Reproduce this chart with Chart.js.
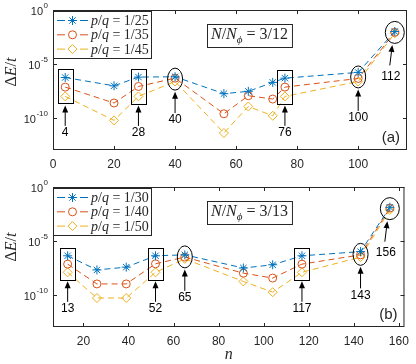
<!DOCTYPE html>
<html>
<head>
<meta charset="utf-8">
<script src="https://cdn.jsdelivr.net/npm/chart.js@4/dist/chart.umd.min.js"></script>
<style>
  body { margin: 0; background: #fff; }
  canvas { position: absolute; left: 0; }
</style>
</head>
<body>
<canvas id="ca" width="416" height="180" style="top:0"></canvas>
<canvas id="cb" width="416" height="184" style="top:180px"></canvas>
<script>
// panel (a): N/Nphi = 3/12
const nA = [4, 20, 28, 40, 56, 64, 72, 76, 100, 112];
const q25 = [5.4e-7, 9.1e-8, 5.9e-7, 6.3e-7, 1.7e-8, 2.8e-8, 1.9e-7, 4.7e-7, 1.6e-6, 1.0e-2];
const q35 = [6.9e-8, 2.3e-9, 7.9e-8, 4.7e-7, 2.3e-10, 1.1e-8, 5.4e-9, 6.9e-8, 4.4e-7, 8.5e-3];
const q45 = [9.5e-9, 5.6e-11, 9.5e-9, 2.3e-7, 3.8e-12, 1.1e-9, 1.5e-10, 9.5e-9, 2.3e-7, 6.9e-3];
const boxedA = [4, 28, 76];
const circledA = [40, 100, 112];
const xTicksA = [0, 20, 40, 60, 80, 100];

// panel (b): N/Nphi = 3/13
const nB = [13, 26, 39, 52, 65, 91, 104, 117, 143, 156];
const q30 = [4.1e-7, 2.0e-8, 3.6e-8, 4.1e-7, 5.0e-7, 3.0e-8, 6.0e-8, 4.1e-7, 1.0e-6, 1.3e-2];
const q40 = [6.9e-8, 1.0e-9, 1.0e-9, 7.4e-8, 3.1e-7, 1.0e-8, 3.5e-9, 6.9e-8, 5.0e-7, 1.1e-2];
const q50 = [1.2e-8, 4.9e-11, 4.9e-11, 1.2e-8, 2.1e-7, 1.7e-9, 1.7e-10, 1.2e-8, 3.1e-7, 7.4e-3];
const boxedB = [13, 52, 117];
const circledB = [65, 143, 156];
const xTicksB = [20, 40, 60, 80, 100, 120, 140, 160];

const yTicks = [1e0, 1e-5, 1e-10];
const yTickExp = ['0', '-5', '-10'];

const blue = '#0072BD', orange = '#D95319', yellow = '#EDB120';
const axisCol = '#262626';
const sans = '"Liberation Sans", Arial, sans-serif';
const serif = '"Liberation Serif", "DejaVu Serif", serif';

function rich(ctx, parts, x, y, size, align) {
  const fontFor = k => (k === 'r' ? '' : 'italic ') + (k === 'sub' ? Math.round(size * 0.7) : size) + 'px ' + serif;
  let w = 0;
  parts.forEach(p => { ctx.font = fontFor(p[1]); w += ctx.measureText(p[0]).width; });
  let cx = align === 'center' ? x - w / 2 : x;
  ctx.textAlign = 'left';
  ctx.textBaseline = 'alphabetic';
  parts.forEach(p => {
    ctx.font = fontFor(p[1]);
    ctx.fillText(p[0], cx, p[1] === 'sub' ? y + size * 0.28 : y);
    cx += ctx.measureText(p[0]).width;
  });
  return w;
}

function arrow(ctx, x0, y0, x1, y1) {
  // tip at (x0, y0), tail at (x1, y1)
  const ang = Math.atan2(y0 - y1, x0 - x1);
  ctx.beginPath();
  ctx.moveTo(x1, y1);
  ctx.lineTo(x0 - 6 * Math.cos(ang), y0 - 6 * Math.sin(ang));
  ctx.stroke();
  ctx.beginPath();
  ctx.moveTo(x0, y0);
  ctx.lineTo(x0 - 7 * Math.cos(ang) + 3 * Math.sin(ang), y0 - 7 * Math.sin(ang) - 3 * Math.cos(ang));
  ctx.lineTo(x0 - 7 * Math.cos(ang) - 3 * Math.sin(ang), y0 - 7 * Math.sin(ang) + 3 * Math.cos(ang));
  ctx.closePath();
  ctx.fill();
}

const deco = {
  id: 'deco',
  afterDatasetsDraw(chart, args, o) {
    const { ctx, chartArea: a, scales: { x, y } } = chart;
    const sets = chart.data.datasets;
    ctx.save();

    // box
    ctx.strokeStyle = axisCol;
    ctx.lineWidth = 1;
    ctx.strokeRect(a.left + 0.5, a.top + 0.5, a.right - a.left - 1, a.bottom - a.top - 1);

    // inward ticks on all sides
    ctx.beginPath();
    o.xTicks.forEach(v => {
      const px = Math.round(x.getPixelForValue(v)) + 0.5;
      ctx.moveTo(px, a.bottom); ctx.lineTo(px, a.bottom - 4);
      ctx.moveTo(px, a.top); ctx.lineTo(px, a.top + 4);
    });
    yTicks.forEach(v => {
      const py = Math.round(y.getPixelForValue(v)) + 0.5;
      ctx.moveTo(a.left, py); ctx.lineTo(a.left + 4, py);
      ctx.moveTo(a.right, py); ctx.lineTo(a.right - 4, py);
    });
    ctx.stroke();

    // y tick labels 10^k
    ctx.fillStyle = axisCol;
    yTicks.forEach((v, i) => {
      const py = y.getPixelForValue(v);
      ctx.font = '8px ' + sans;
      ctx.textAlign = 'right';
      ctx.textBaseline = 'middle';
      const sw = ctx.measureText(yTickExp[i]).width;
      ctx.fillText(yTickExp[i], a.left - 5, py - 4);
      ctx.font = '11px ' + sans;
      ctx.fillText('10', a.left - 5 - sw - 0.5, py + 2);
    });

    // y axis title
    ctx.save();
    ctx.translate(15.5, a.top + o.ylabY);
    ctx.rotate(-Math.PI / 2);
    rich(ctx, [['\u0394', 'r'], ['E', 'i'], ['/', 'r'], ['t', 'i']], 0, 0, 16, 'center');
    ctx.restore();

    // legend
    const lx = a.left, ly = a.top + 1, lw = 99, lh = 48;
    ctx.fillStyle = '#fff';
    ctx.fillRect(lx, ly, lw, lh);
    ctx.strokeStyle = axisCol;
    ctx.strokeRect(lx + 0.5, ly + 0.5, lw - 1, lh - 1);
    sets.forEach((d, i) => {
      const ry = ly + 9.5 + i * 14.3;
      ctx.strokeStyle = d.borderColor;
      ctx.lineWidth = 1;
      ctx.beginPath();
      ctx.moveTo(lx + 4, ry); ctx.lineTo(lx + 12, ry);
      ctx.moveTo(lx + 27, ry); ctx.lineTo(lx + 35, ry);
      ctx.stroke();
      ctx.fillStyle = 'rgba(0,0,0,0)';
      Chart.helpers.drawPoint(ctx, { pointStyle: d.pointStyle, radius: d.pointRadius, borderWidth: 1, rotation: 0 }, lx + 19.5, ry);
      ctx.fillStyle = axisCol;
      rich(ctx, [['p', 'i'], ['/', 'r'], ['q', 'i'], [' = ' + d.label, 'r']], lx + 38, ry + 4.5, 14, 'left');
    });

    // N/Nphi box
    const tparts = [['N', 'i'], ['/', 'r'], ['N', 'i'], ['\u03d5', 'sub'], [' = ' + o.ratio, 'r']];
    ctx.fillStyle = axisCol;
    const tw = rich(ctx, tparts, a.left + 158, a.top + 29, 16, 'left');
    ctx.strokeStyle = axisCol;
    ctx.strokeRect(a.left + 154.5, a.top + 14.5, tw + 8, 23);

    // panel tag
    ctx.font = '15px ' + sans;
    ctx.textAlign = 'right';
    ctx.textBaseline = 'middle';
    ctx.fillText(o.tag, a.right - 7, a.bottom - 12);

    // marked points
    const pixAt = n => sets.map(d => y.getPixelForValue(d.data.find(p => p.x === n).y));
    ctx.lineWidth = 1;
    ctx.strokeStyle = '#000';
    ctx.fillStyle = '#000';
    ctx.font = '12px ' + sans;
    ctx.textAlign = 'center';
    ctx.textBaseline = 'middle';
    o.boxed.forEach(n => {
      const px = x.getPixelForValue(n), ys = pixAt(n);
      const t = Math.min(...ys) - 8, b = Math.max(...ys) + 7.5;
      ctx.strokeRect(Math.round(px - 7.5) + 0.5, Math.round(t) + 0.5, 15, Math.round(b - t));
      arrow(ctx, px, b + 1.5, px, b + 22);
      ctx.fillText(String(n), px, b + 29);
    });
    o.circled.forEach((n, i) => {
      const px = x.getPixelForValue(n), ys = pixAt(n);
      const cy = (Math.min(...ys) + Math.max(...ys)) / 2;
      const last = i === o.circled.length - 1;
      const rx = last ? 9.5 : 7.5, ry = 11;
      ctx.beginPath();
      ctx.ellipse(px, cy, rx, ry, 0, 0, Math.PI * 2);
      ctx.stroke();
      if (last) {
        arrow(ctx, px - 2.5, cy + ry + 1.5, px - 5, cy + ry + 22);
        ctx.fillText(String(n), px - 4, cy + ry + 33);
      } else {
        arrow(ctx, px, cy + ry + 1.5, px, cy + ry + 23);
        ctx.fillText(String(n), px, cy + ry + 30);
      }
    });

    // x axis title
    if (o.xlabel) {
      ctx.fillStyle = axisCol;
      rich(ctx, [['n', 'i']], (a.left + a.right) / 2, chart.height - 5, 16, 'center');
    }
    ctx.restore();
  }
};

function series(label, xs, ys, color, style, r) {
  return {
    label: label,
    data: xs.map((n, i) => ({ x: n, y: ys[i] })),
    borderColor: color,
    backgroundColor: 'rgba(0,0,0,0)',
    borderWidth: 1,
    borderDash: [6, 4],
    pointStyle: style,
    pointRadius: r,
    pointBorderColor: color,
    pointBackgroundColor: 'rgba(0,0,0,0)',
    pointBorderWidth: 1,
    tension: 0
  };
}

function panel(id, datasets, xmin, xmax, xTicks, top, xh, deco_opts) {
  return new Chart(document.getElementById(id), {
    type: 'line',
    data: { datasets: datasets },
    options: {
      responsive: false,
      animation: false,
      devicePixelRatio: 1,
      layout: { padding: { left: 0, top: top, right: 9, bottom: 0 } },
      plugins: { legend: { display: false }, tooltip: { enabled: false }, deco: deco_opts },
      scales: {
        x: {
          type: 'linear', min: xmin, max: xmax,
          grid: { display: false, drawTicks: false },
          border: { display: false },
          ticks: { color: axisCol, font: { size: 12, family: sans }, padding: 7 },
          afterBuildTicks: s => { s.ticks = xTicks.map(v => ({ value: v })); },
          afterFit: s => { s.height = xh; }
        },
        y: {
          type: 'logarithmic', min: 1e-13, max: 1,
          grid: { display: false, drawTicks: false },
          border: { display: false },
          ticks: { display: false },
          afterFit: s => { s.width = 53; }
        }
      }
    },
    plugins: [deco]
  });
}

panel('ca', [
  series('1/25', nA, q25, blue, 'star', 4.5),
  series('1/35', nA, q35, orange, 'circle', 4),
  series('1/45', nA, q45, yellow, 'rectRot', 4.5)
], 0, 116, xTicksA, 10, 30,
  { xTicks: xTicksA, boxed: boxedA, circled: circledA, ratio: '3/12', tag: '(a)', ylabY: 62, xlabel: false });

panel('cb', [
  series('1/30', nB, q30, blue, 'star', 4.5),
  series('1/40', nB, q40, orange, 'circle', 4),
  series('1/50', nB, q50, yellow, 'rectRot', 4.5)
], 6.5, 162.5, xTicksB, 7, 37,
  { xTicks: xTicksB, boxed: boxedB, circled: circledB, ratio: '3/13', tag: '(b)', ylabY: 60, xlabel: true });
</script>
</body>
</html>
